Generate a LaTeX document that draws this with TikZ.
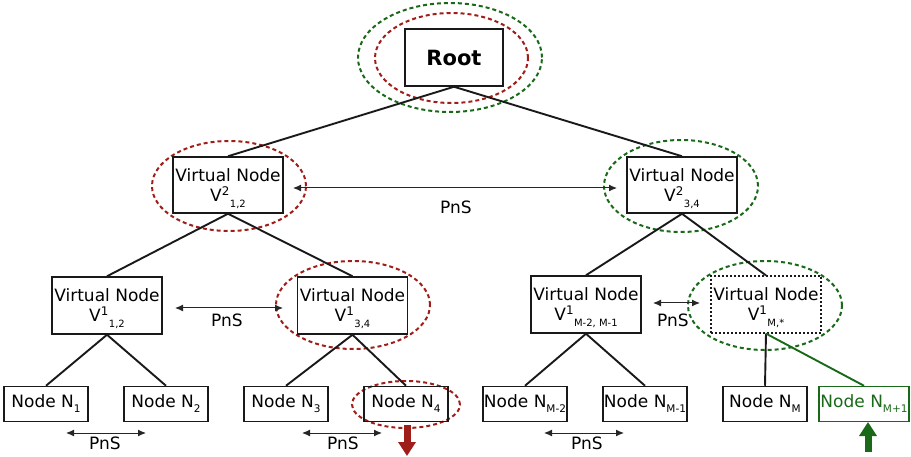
\documentclass[tikz,border=0pt]{standalone}
\usepackage{fontspec}
\setmainfont{DejaVu Sans}
\usetikzlibrary{arrows.meta}
\definecolor{dred}{RGB}{160,30,25}
\definecolor{dgreen}{RGB}{25,105,25}
\newcommand{\vsub}[2]{V\textsuperscript{#1}\raisebox{-6pt}{\fontsize{10}{10}\selectfont #2}}
\newcommand{\nsub}[1]{Node N\raisebox{-5pt}{\fontsize{10.5}{10}\selectfont #1}}
\begin{document}
\begin{tikzpicture}[x=1pt,y=-1pt,font=\fontsize{17}{20}\selectfont,
  vbox/.style={draw=black!90,line width=1.5pt,minimum width=110pt,minimum height=56pt,align=center,inner sep=0pt},
  leaf/.style={draw=black!90,line width=1.5pt,minimum width=84pt,minimum height=35pt,inner sep=0pt},
  edge/.style={line width=1.9pt,black!90},
  redring/.style={draw=dred,dash pattern=on 4pt off 3pt,line width=2pt},
  greenring/.style={draw=dgreen,dash pattern=on 4pt off 3pt,line width=2pt},
  pns/.style={line width=1pt,black!85,{Latex[length=8pt,width=7pt]}-{Latex[length=8pt,width=7pt]}},
  bigarrow/.style={line width=7pt,-{Triangle[length=14pt,width=17pt]}}]
\useasboundingbox (0,0) rectangle (911,457);
% rings
\draw[greenring] (450,57.5) ellipse [x radius=92pt,y radius=54.5pt];
\draw[redring] (451.5,58) ellipse [x radius=76.5pt,y radius=45pt];
\draw[redring] (229,186) ellipse [x radius=77pt,y radius=45pt];
\draw[greenring] (681,186) ellipse [x radius=77pt,y radius=46pt];
\draw[redring] (353,305) ellipse [x radius=77pt,y radius=44pt];
\draw[greenring] (765,305.5) ellipse [x radius=77pt,y radius=44.5pt];
\draw[redring] (406,404.5) ellipse [x radius=54pt,y radius=23.5pt];
% nodes
\node[vbox,minimum width=98pt,minimum height=57pt,font=\fontsize{21}{24}\selectfont\bfseries] (root) at (454,57.5) {Root};
\node[vbox] (v212) at (228,185) {\rule{0pt}{20pt}Virtual Node\\\vsub{2}{1,2}};
\node[vbox] (v234) at (682,185) {\rule{0pt}{20pt}Virtual Node\\\vsub{2}{3,4}};
\node[vbox,minimum height=57pt] (v112) at (107,305.5) {\rule{0pt}{20pt}Virtual Node\\\vsub{1}{1,2}};
\node[vbox,minimum height=57pt] (v134) at (352.5,305.5) {\rule{0pt}{20pt}Virtual Node\\\vsub{1}{3,4}};
\node[vbox,minimum height=57pt] (vm21) at (586,304.5) {\rule{0pt}{20pt}Virtual Node\\\vsub{1}{M-2, M-1}};
\node[vbox,minimum height=57pt,line width=1.2pt,dash pattern=on 2pt off 2pt] (vms) at (766,304.5) {\rule{0pt}{20pt}Virtual Node\\\vsub{1}{M,*}};
\node[leaf] (n1) at (46,404) {\nsub{1}};
\node[leaf] (n2) at (166,404) {\nsub{2}};
\node[leaf] (n3) at (286,404) {\nsub{3}};
\node[leaf] (n4) at (406,404) {\nsub{4}};
\node[leaf] (nm2) at (525,404) {\nsub{M-2}};
\node[leaf] (nm1) at (645,404) {\nsub{M-1}};
\node[leaf] (nm) at (765,404) {\nsub{M}};
\node[leaf,draw=dgreen,text=dgreen,minimum width=90pt] (nmp) at (864,404) {\nsub{M+1}};
% edges
\draw[edge] (root.south) -- (v212.north);
\draw[edge] (root.south) -- (v234.north);
\draw[edge] (v212.south) -- (v112.north);
\draw[edge] (v212.south) -- (v134.north);
\draw[edge] (v234.south) -- (vm21.north);
\draw[edge] (v234.south) -- (vms.north);
\draw[edge] (v112.south) -- (n1.north);
\draw[edge] (v112.south) -- (n2.north);
\draw[edge] (v134.south) -- (n3.north);
\draw[edge] (v134.south) -- (n4.north);
\draw[edge] (vm21.south) -- (nm2.north);
\draw[edge] (vm21.south) -- (nm1.north);
\draw[edge] (vms.south) -- (nm.north);
\draw[edge,dgreen] (vms.south) -- (nmp.north);
% PnS arrows
\coordinate (a1) at (293,188); \coordinate (b1) at (617,188);
\draw[pns] (a1) -- (b1);
\node (l1) at (456,207) {PnS};
\coordinate (a2) at (175,308); \coordinate (b2) at (283,308);
\draw[pns] (a2) -- (b2);
\node (l2) at (227,320) {PnS};
\coordinate (a3) at (653,303); \coordinate (b3) at (700,303);
\draw[pns] (a3) -- (b3);
\node (l3) at (673,320) {PnS};
\coordinate (a4) at (66,433); \coordinate (b4) at (146,433);
\draw[pns] (a4) -- (b4);
\node (l4) at (105,443) {PnS};
\coordinate (a5) at (302,433); \coordinate (b5) at (382,433);
\draw[pns] (a5) -- (b5);
\node (l5) at (343,443) {PnS};
\coordinate (a6) at (544,433); \coordinate (b6) at (624,433);
\draw[pns] (a6) -- (b6);
\node (l6) at (587,443) {PnS};
% big arrows
\coordinate (d1) at (407,456);
\draw[bigarrow,dred] (n4.south) ++(1,3) coordinate (d0) (d0) -- (d1);
\coordinate (u0) at (868,452);
\coordinate (u1) at (868,422);
\draw[bigarrow,dgreen] (u0) -- (u1);
\end{tikzpicture}
\end{document}
